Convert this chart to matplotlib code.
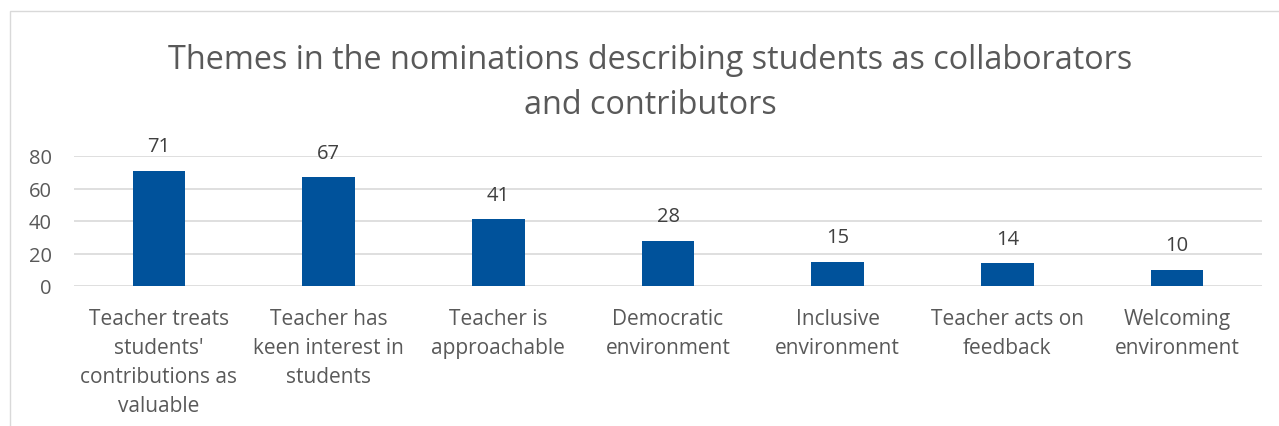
import matplotlib
matplotlib.use("Agg")
import matplotlib.pyplot as plt
from matplotlib.patches import Rectangle

# data
categories = [
    "Teacher treats\nstudents'\ncontributions as\nvaluable",
    "Teacher has\nkeen interest in\nstudents",
    "Teacher is\napproachable",
    "Democratic\nenvironment",
    "Inclusive\nenvironment",
    "Teacher acts on\nfeedback",
    "Welcoming\nenvironment",
]
counts = [71, 67, 41, 28, 15, 14, 10]
yticks = [0, 20, 40, 60, 80]
title = "Themes in the nominations describing students as collaborators\nand contributors"

plt.rcParams["font.family"] = ["Open Sans", "DejaVu Sans"]

fig = plt.figure(figsize=(12.79, 4.27), dpi=100)
W, H = 1279, 427

# chart border (Excel style)
fig.patches.append(Rectangle((10 / W, -0.1), 1.2, 1 - 12 / H + 0.1,
                             transform=fig.transFigure, fill=False,
                             edgecolor="#D9D9D9", linewidth=1))

ax = fig.add_axes([74 / W, 1 - 287 / H, (1262 - 74) / W, (287 - 157) / H])

x = range(len(counts))
bars = ax.bar(x, counts, width=0.31, color="#00529B", zorder=3)

for xi, v in zip(x, counts):
    ax.annotate(str(v), (xi, v), xytext=(0, 14), textcoords="offset points",
                ha="center", va="baseline", fontsize=14.5, color="#404040")

ax.set_xlim(-0.5, len(counts) - 0.5)
ax.set_ylim(0, 80)
ax.set_yticks(yticks)
ax.set_xticks(list(x))
ax.set_xticklabels(categories, fontsize=15, color="#595959", linespacing=1.5)
ax.tick_params(axis="y", labelsize=14.5, labelcolor="#595959", length=0, pad=16)
ax.tick_params(axis="x", length=0, pad=16)
ax.grid(axis="y", color="#D9D9D9", linewidth=1.2, zorder=0)
for s in ax.spines.values():
    s.set_visible(False)

fig.text(650 / W, 1 - 83 / H, title, ha="center", va="center",
         fontsize=23.3, color="#595959", linespacing=1.45)

fig.savefig("out.png", dpi=100)
